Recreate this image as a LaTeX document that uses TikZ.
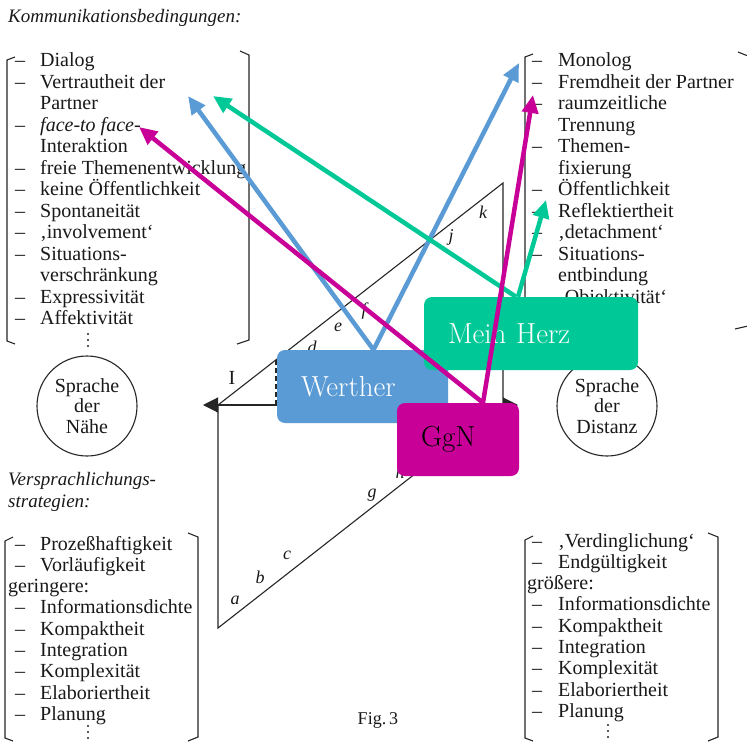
\documentclass[tikz,border=0pt]{standalone}
\usepackage{fontspec}
\newfontfamily\scanfont{Liberation Serif}
\usetikzlibrary{arrows.meta}
\definecolor{wblue}{RGB}{91,155,213}
\definecolor{hgreen}{RGB}{0,201,151}
\definecolor{gmag}{RGB}{200,0,152}
\tikzset{
  scan/.style={font=\scanfont\fontsize{20}{21.5}\selectfont,text=black!90,inner sep=0pt,anchor=base west},
  scanhead/.style={scan,font=\scanfont\itshape\fontsize{19}{21.5}\selectfont},
  scanline/.style={line width=1.1pt,draw=black!85},
  letter/.style={font=\scanfont\itshape\fontsize{18}{18}\selectfont,text=black!90,inner sep=0pt},
  circ/.style={circle,draw=black!85,line width=1.1pt,minimum size=100pt,inner sep=0pt,
    align=center,font=\scanfont\fontsize{20}{20.5}\selectfont,text=black!90},
  tag/.style={rounded corners=8pt,minimum height=73pt,inner xsep=24pt,inner ysep=0pt,
    align=left,font=\fontsize{29}{30}\selectfont},
  link/.style={line width=4.5pt,-{Triangle[length=18pt,width=16pt]}}
}
\begin{document}
\begin{tikzpicture}[x=1pt,y=-1pt]
  \useasboundingbox (0,0) rectangle (747,744);
  \fill[white] (0,0) rectangle (747,744);

  % headings
  \node[scanhead] (kommhead) at (8,22) {Kommunikationsbedingungen:};
  \node[scanhead] (verhead) at (8,485) {Versprachlichungs-};
  \node[scanhead] (verhead2) at (8,507) {strategien:};

  % Naehe, Kommunikationsbedingungen
  \foreach \t [count=\i from 0] in {Dialog, Vertrautheit der, Partner, \textit{face-to face-},
      Interaktion, freie Themenentwicklung, keine Öffentlichkeit, Spontaneität,
      ‚involvement‘, Situations-, verschränkung, Expressivität, Affektivität}
    \node[scan] (nah\i) at (40,66.5+21.5*\i) {\t};
  \foreach \i in {0,1,3,5,6,7,8,9,11,12}
    \node[scan] (nahd\i) at (15,66.5+21.5*\i) {–};
  \draw[scanline] (15,57) -- (7,60) -- (7,341) -- (15,344);
  \draw[scanline] (240,51) -- (249,55) -- (249,340) -- (237,344);

  % Distanz, Kommunikationsbedingungen
  \foreach \t [count=\i from 0] in {Monolog, Fremdheit der Partner, raumzeitliche, Trennung,
      Themen-, fixierung, Öffentlichkeit, Reflektiertheit, ‚detachment‘,
      Situations-, entbindung, ‚Objektivität‘}
    \node[scan] (dis\i) at (558,66.5+21.5*\i) {\t};
  \foreach \i in {0,1,2,4,6,7,8,9,11}
    \node[scan] (disd\i) at (532,66.5+21.5*\i) {–};
  \draw[scanline] (533,54) -- (525,57) -- (525,340) -- (533,343);
  \draw[scanline] (738,52) -- (748,56) -- (748,326) -- (735,329);

  % Versprachlichungsstrategien
  \foreach \x/\t [count=\i from 0] in {40/Prozeßhaftigkeit, 40/Vorläufigkeit, 8/geringere:,
      40/Informationsdichte, 40/Kompaktheit, 40/Integration, 40/Komplexität,
      40/Elaboriertheit, 40/Planung}
    \node[scan] (vnah\i) at (\x,550+21.3*\i) {\t};
  \foreach \x/\t [count=\i from 0] in {558/‚Verdinglichung‘, 558/Endgültigkeit, 527/größere:,
      558/Informationsdichte, 558/Kompaktheit, 558/Integration, 558/Komplexität,
      558/Elaboriertheit, 558/Planung}
    \node[scan] (vdis\i) at (\x,547+21.3*\i) {\t};
  \foreach \i in {0,1,3,4,5,6,7,8} {
    \node[scan] (vnahd\i) at (15,550+21.3*\i) {–};
    \node[scan] (vdisd\i) at (532,547+21.3*\i) {–};
  }
  \draw[scanline] (13,537) -- (5,541) -- (5,738) -- (13,741);
  \draw[scanline] (188,533) -- (198,537) -- (198,737) -- (188,741);
  \draw[scanline] (533,536) -- (525,540) -- (525,738) -- (533,741);
  \draw[scanline] (708,533) -- (718,537) -- (718,737) -- (708,741);

  % Fortsetzungspunkte
  \foreach \x/\y in {88/334, 88/726, 608/725}
    \foreach \k in {0,1,2}
      \fill[black!85] (\x,\y+6*\k) circle (1.1pt);

  % Sprache der Naehe / Distanz
  \node[circ] (naehe) at (87,406) {Sprache\\der\\Nähe};
  \node[circ] (distanz) at (607,406) {Sprache\\der\\Distanz};

  % Parallelogramm
  \coordinate (apex) at (503,183);
  \coordinate (base) at (218,405);
  \coordinate (bottom) at (218,628);
  \coordinate (rbase) at (503,405);
  \coordinate (tipl) at (203,405);
  \coordinate (tipr) at (518,405);
  \draw[scanline] (apex) -- (base) -- (bottom) -- (rbase) -- cycle;
  \draw[scanline,{Triangle[length=15pt,width=15pt]}-{Triangle[length=15pt,width=15pt]}] (tipl) -- (tipr);
  \draw[scanline,dashed,dash pattern=on 5pt off 3pt] (276,360) -- (276,405);
  \node[scan,anchor=center] (roman) at (232,378) {I};
  \foreach \l/\x/\y in {a/235/600, b/260/577, c/287/555, g/372/495, h/400/472,
      d/312/347, e/338/327, f/364/311, j/451/237, k/483/212}
    \node[letter] (pt\l) at (\x,\y) {\l};
  \node[scan,anchor=center,font=\scanfont\fontsize{18}{18}\selectfont] (figno) at (378,720) {Fig.\,3};

  % overlay
  \node[tag,fill=wblue,text=white,text width=123pt] (werther) at (362.5,386.5) {Werther};
  \coordinate (vpartner) at (188,96);
  \coordinate (monolog) at (519,63);
  \coordinate (vpartner2) at (213,96);
  \coordinate (reflekt) at (546,200);
  \coordinate (face) at (139,127);
  \coordinate (raumzeit) at (533,95);
  \draw[link,wblue] ([xshift=11pt]werther.north) -- (vpartner);
  \draw[link,wblue] ([xshift=11pt]werther.north) -- (monolog);
  \node[tag,fill=hgreen,text=white,text width=166pt] (herz) at (531,333.5) {Mein Herz};
  \draw[link,hgreen] ([xshift=-15pt]herz.north) -- (vpartner2);
  \draw[link,hgreen] ([xshift=-13pt]herz.north) -- (reflekt);
  \node[tag,fill=gmag,text=black,text width=74pt] (ggn) at (458,439.5) {GgN};
  \draw[link,gmag] ([xshift=25pt]ggn.north) -- (face);
  \draw[link,gmag] ([xshift=25pt]ggn.north) -- (raumzeit);
\end{tikzpicture}
\end{document}
